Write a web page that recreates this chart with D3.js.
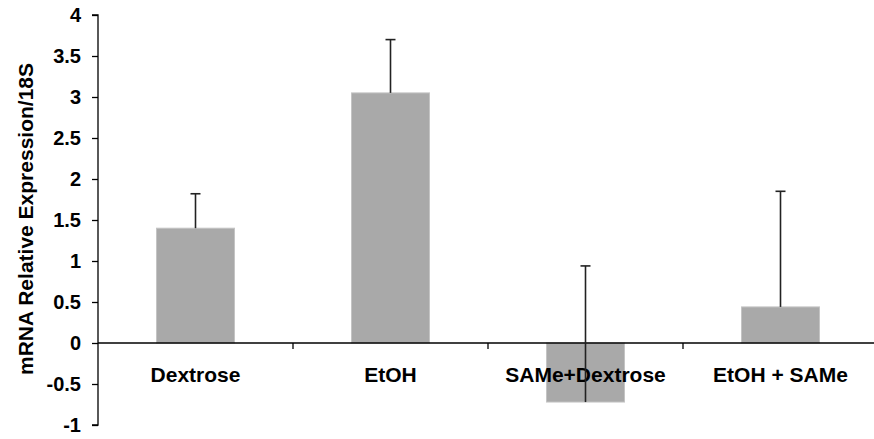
<!DOCTYPE html>
<html>
<head>
<meta charset="utf-8">
<script src="https://cdn.jsdelivr.net/npm/d3@7"></script>
<style>
  html, body { margin: 0; padding: 0; background: #fff; }
  svg { display: block; font-family: "Liberation Sans", Arial, sans-serif; font-weight: bold; }
</style>
</head>
<body>
<svg id="chart" width="874" height="439"></svg>
<script>
// Treatment groups and their mean expression with the upper error extent
const categories = ["Dextrose", "EtOH", "SAMe+Dextrose", "EtOH + SAMe"];
const values = [1.40, 3.05, -0.72, 0.44];
const errors = [0.42, 0.65, 1.66, 1.41];
const yTicks = [-1, -0.5, 0, 0.5, 1, 1.5, 2, 2.5, 3, 3.5, 4];
const yTitle = "mRNA Relative Expression/18S";

const svg = d3.select("#chart");
const plotLeft = 98, plotRight = 878, plotTop = 15, plotBottom = 425;

const x = d3.scaleBand().domain(categories).range([plotLeft, plotRight]).paddingInner(0.6).paddingOuter(0.3);
const band = d3.scaleBand().domain(categories).range([plotLeft, plotRight]);
const y = d3.scaleLinear().domain([-1, 4]).range([plotBottom, plotTop]);

// Y axis
const yAxis = svg.append("g")
  .attr("transform", `translate(${plotLeft},0)`)
  .call(d3.axisLeft(y).tickValues(yTicks).tickSize(6).tickPadding(11).tickFormat(d => String(d)));
yAxis.select(".domain").attr("stroke", "#000").attr("stroke-width", 1.3).attr("d", `M-6,${y(4)}H0V${y(-1)}H-6`);
yAxis.selectAll(".tick line").attr("stroke", "#000").attr("stroke-width", 1.3);
yAxis.selectAll(".tick text").attr("fill", "#000").style("font-size", "20px").style("font-weight", "bold")
  .style("font-family", "'Liberation Sans', Arial, sans-serif");

// Bars
svg.append("g").selectAll("rect").data(categories).join("rect")
  .attr("x", d => x(d))
  .attr("width", x.bandwidth())
  .attr("y", (d, i) => Math.min(y(values[i]), y(0)))
  .attr("height", (d, i) => Math.abs(y(values[i]) - y(0)))
  .attr("fill", "#a9a9a9")
  .attr("stroke", "#c4c4c4")
  .attr("stroke-width", 1);

// Category axis at zero
const xAxis = svg.append("g")
  .attr("transform", `translate(0,${y(0)})`)
  .call(d3.axisBottom(band).tickSize(0).tickFormat(""));
xAxis.select(".domain").attr("stroke", "#000").attr("stroke-width", 1.3).attr("d", `M${plotLeft},0H${plotRight}`);
svg.append("g").selectAll("line").data(categories.slice(1)).join("line")
  .attr("x1", d => band(d)).attr("x2", d => band(d))
  .attr("y1", y(0)).attr("y2", y(0) + 6)
  .attr("stroke", "#000").attr("stroke-width", 1.3);

// Category labels
svg.append("g").selectAll("text").data(categories).join("text")
  .attr("x", d => band(d) + band.bandwidth() / 2)
  .attr("y", y(0) + 39)
  .attr("text-anchor", "middle")
  .style("font-size", "21px")
  .attr("fill", "#000")
  .text(d => d);

// Error bars (upper only)
const eb = svg.append("g").attr("stroke", "#222").attr("stroke-width", 1.6);
categories.forEach((c, i) => {
  const cx = x(c) + x.bandwidth() / 2;
  eb.append("line").attr("x1", cx).attr("x2", cx)
    .attr("y1", y(values[i])).attr("y2", y(values[i] + errors[i]));
  eb.append("line").attr("x1", cx - 5).attr("x2", cx + 5)
    .attr("y1", y(values[i] + errors[i])).attr("y2", y(values[i] + errors[i]));
});

// Y axis title
svg.append("text")
  .attr("transform", `translate(33,219) rotate(-90)`)
  .attr("text-anchor", "middle")
  .style("font-size", "21px")
  .attr("fill", "#000")
  .text(yTitle);
</script>
</body>
</html>
